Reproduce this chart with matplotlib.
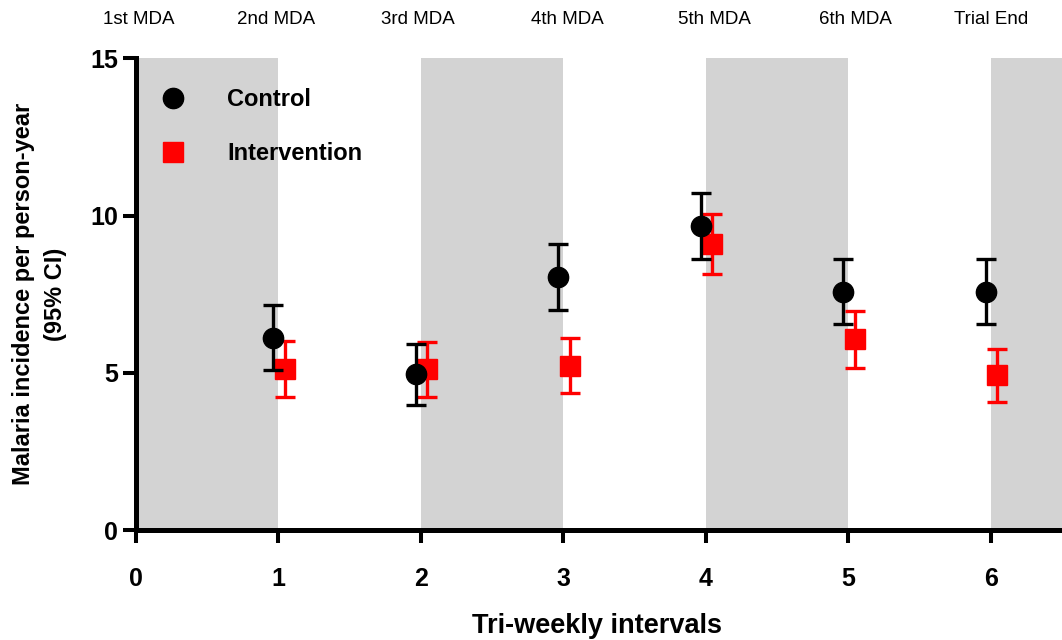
import matplotlib
matplotlib.use("Agg")
import matplotlib.pyplot as plt
import matplotlib.transforms as mtransforms
from matplotlib.lines import Line2D

plt.rcParams['font.family'] = ['Liberation Sans', 'DejaVu Sans']

# ---- data ----
intervals = [1, 2, 3, 4, 5, 6]
control_rate = [6.12, 4.95, 8.04, 9.67, 7.57, 7.57]
control_lo = [5.08, 3.99, 6.99, 8.61, 6.54, 6.54]
control_hi = [7.15, 5.93, 9.11, 10.72, 8.61, 8.61]
interv_rate = [5.11, 5.11, 5.23, 9.11, 6.06, 4.92]
interv_lo = [4.22, 4.22, 4.36, 8.14, 5.16, 4.07]
interv_hi = [6.00, 5.97, 6.11, 10.04, 6.96, 5.77]
mda_labels = ["1st MDA", "2nd MDA", "3rd MDA", "4th MDA", "5th MDA", "6th MDA", "Trial End"]
mda_label_x = [0.02, 0.98, 1.98, 3.03, 4.06, 5.05, 6.0]
shaded_periods = [(0, 1), (2, 3), (4, 5), (6, 6.5)]
x_ticks = [0, 1, 2, 3, 4, 5, 6]
y_ticks = [0, 5, 10, 15]

W, H = 1062, 640
fig = plt.figure(figsize=(W / 100, H / 100), dpi=100)
ax_left, ax_right, ax_top, ax_bottom = 136, 1062, 58.3, 530
ax = fig.add_axes([ax_left / W, (H - ax_bottom) / H,
                   (ax_right - ax_left) / W, (ax_bottom - ax_top) / H])

for a, b in shaded_periods:
    ax.axvspan(a, b, color='#d3d3d3', lw=0, zorder=0)

ctrl_x = [v - 0.035 for v in intervals]
int_x = [v + 0.045 for v in intervals]

ctrl_err = [[r - l for r, l in zip(control_rate, control_lo)],
            [h - r for r, h in zip(control_rate, control_hi)]]
int_err = [[r - l for r, l in zip(interv_rate, interv_lo)],
           [h - r for r, h in zip(interv_rate, interv_hi)]]

ax.errorbar(int_x, interv_rate, yerr=int_err, fmt='s', color='#ff0000',
            ms=13.8, elinewidth=2.4, capsize=7.2, capthick=2.4, zorder=3,
            clip_on=False)
ax.errorbar(ctrl_x, control_rate, yerr=ctrl_err, fmt='o', color='black',
            ms=14.6, elinewidth=2.4, capsize=7.2, capthick=2.4, zorder=4,
            clip_on=False)

ax.set_xlim(0, 6.5)
ax.set_ylim(0, 15)
ax.set_xticks(x_ticks)
ax.set_yticks(y_ticks)
ax.spines['top'].set_visible(False)
ax.spines['right'].set_visible(False)
for s in ('left', 'bottom'):
    ax.spines[s].set_linewidth(3.6)
    ax.spines[s].set_zorder(5)
ax.tick_params(axis='both', direction='out', length=9.4, width=2.9, labelsize=18)
ax.tick_params(axis='y', pad=3.6)
ax.tick_params(axis='x', pad=17)
for lab in ax.get_xticklabels() + ax.get_yticklabels():
    lab.set_fontweight('bold')

ax.set_xlabel("Tri-weekly intervals", fontsize=19.5, fontweight='bold')
ax.xaxis.set_label_coords(0.4975, -0.2184)
ax.xaxis.label.set_va('baseline')

ax.set_ylabel("Malaria incidence per person-year\n(95% CI)", fontsize=17,
              fontweight='bold', linespacing=1.5)
ax.yaxis.set_label_coords(-0.1042, 0.5)
ax.yaxis.label.set_va('center')

trans = mtransforms.blended_transform_factory(ax.transData, fig.transFigure)
for xp, lab in zip(mda_label_x, mda_labels):
    ax.text(xp, (H - 24) / H, lab, transform=trans, ha='center', va='baseline',
            fontsize=13.5, clip_on=False)

handles = [Line2D([], [], marker='o', ls='none', color='black', ms=14.6),
           Line2D([], [], marker='s', ls='none', color='#ff0000', ms=13.8)]
leg = ax.legend(handles, ["Control", "Intervention"], loc='upper left',
                bbox_to_anchor=(158.7 / W, (H - 87.8) / H),
                bbox_transform=fig.transFigure, frameon=False,
                borderpad=0, borderaxespad=0, handlelength=1.2,
                handletextpad=1.7, labelspacing=1.33,
                prop={'size': 17, 'weight': 'bold'})

fig.savefig("out.png", dpi=100)
